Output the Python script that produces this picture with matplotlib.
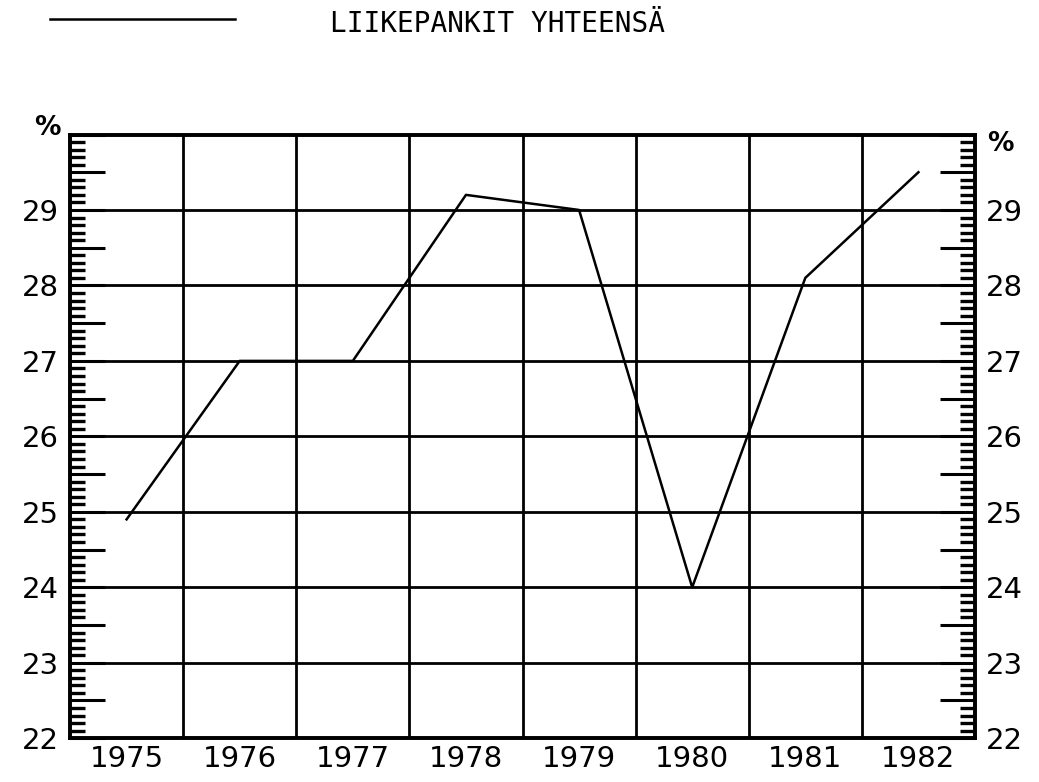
import matplotlib
matplotlib.use('Agg')
import matplotlib.pyplot as plt
import matplotlib.ticker as mticker
from matplotlib.lines import Line2D
import numpy as np

years = ['1975', '1976', '1977', '1978', '1979', '1980', '1981', '1982']
share = [24.9, 27.0, 27.0, 29.2, 29.0, 24.0, 28.1, 29.5]
series_name = 'LIIKEPANKIT YHTEENSÄ'
y_min, y_max = 22, 30

plt.rcParams['font.family'] = ['DejaVu Sans']

fig = plt.figure(figsize=(10.39, 7.82), dpi=100)
ax = fig.add_axes([0.0674, 0.056, 0.871, 0.772])

x = np.arange(len(years)) + 0.5
ax.plot(x, share, color='black', lw=1.8, zorder=3)

ax.set_xlim(0, len(years))
ax.set_ylim(y_min, y_max)

# grid: year boundaries and whole percents
for xb in range(1, len(years)):
    ax.axvline(xb, color='black', lw=2.0, zorder=2)
for yv in range(y_min + 1, y_max):
    ax.axhline(yv, color='black', lw=2.0, zorder=2)

for s in ax.spines.values():
    s.set_linewidth(2.6)

ax.set_xticks(x)
ax.set_xticklabels(years, fontsize=21)
ax.tick_params(axis='x', length=0, pad=5)


def int_only(v, pos):
    return '%d' % round(v) if abs(v - round(v)) < 1e-6 and v < y_max else ''


def setup_y(a, side):
    a.set_ylim(y_min, y_max)
    a.yaxis.set_major_locator(mticker.MultipleLocator(0.5))
    a.yaxis.set_major_formatter(mticker.FuncFormatter(int_only))
    a.yaxis.set_minor_locator(mticker.MultipleLocator(0.1))
    a.tick_params(axis='y', which='major', direction='in', length=25, width=2.2,
                  labelsize=21, pad=8)
    a.tick_params(axis='y', which='minor', direction='in', length=11, width=2.4)
    if side == 'right':
        a.tick_params(axis='y', which='both', left=False, right=True,
                      labelleft=False, labelright=True)


setup_y(ax, 'left')
ax2 = ax.twinx()
setup_y(ax2, 'right')
for s in ax2.spines.values():
    s.set_linewidth(2.6)

ax.text(-0.025, 1.01, '%', transform=ax.transAxes, fontsize=19,
        fontweight='bold', ha='center', va='center')
ax.text(1.028, 0.985, '%', transform=ax.transAxes, fontsize=19,
        fontweight='bold', ha='center', va='center')

# legend line and series name at the top
fig.add_artist(Line2D([50 / 1039, 235 / 1039], [1 - 19 / 782, 1 - 19 / 782],
                      color='black', lw=1.8, transform=fig.transFigure))
fig.text(497 / 1039, 1 - 24 / 782, series_name, fontsize=20,
         family='DejaVu Sans Mono', ha='center', va='center')

fig.savefig('out.png', dpi=100, facecolor='white')
